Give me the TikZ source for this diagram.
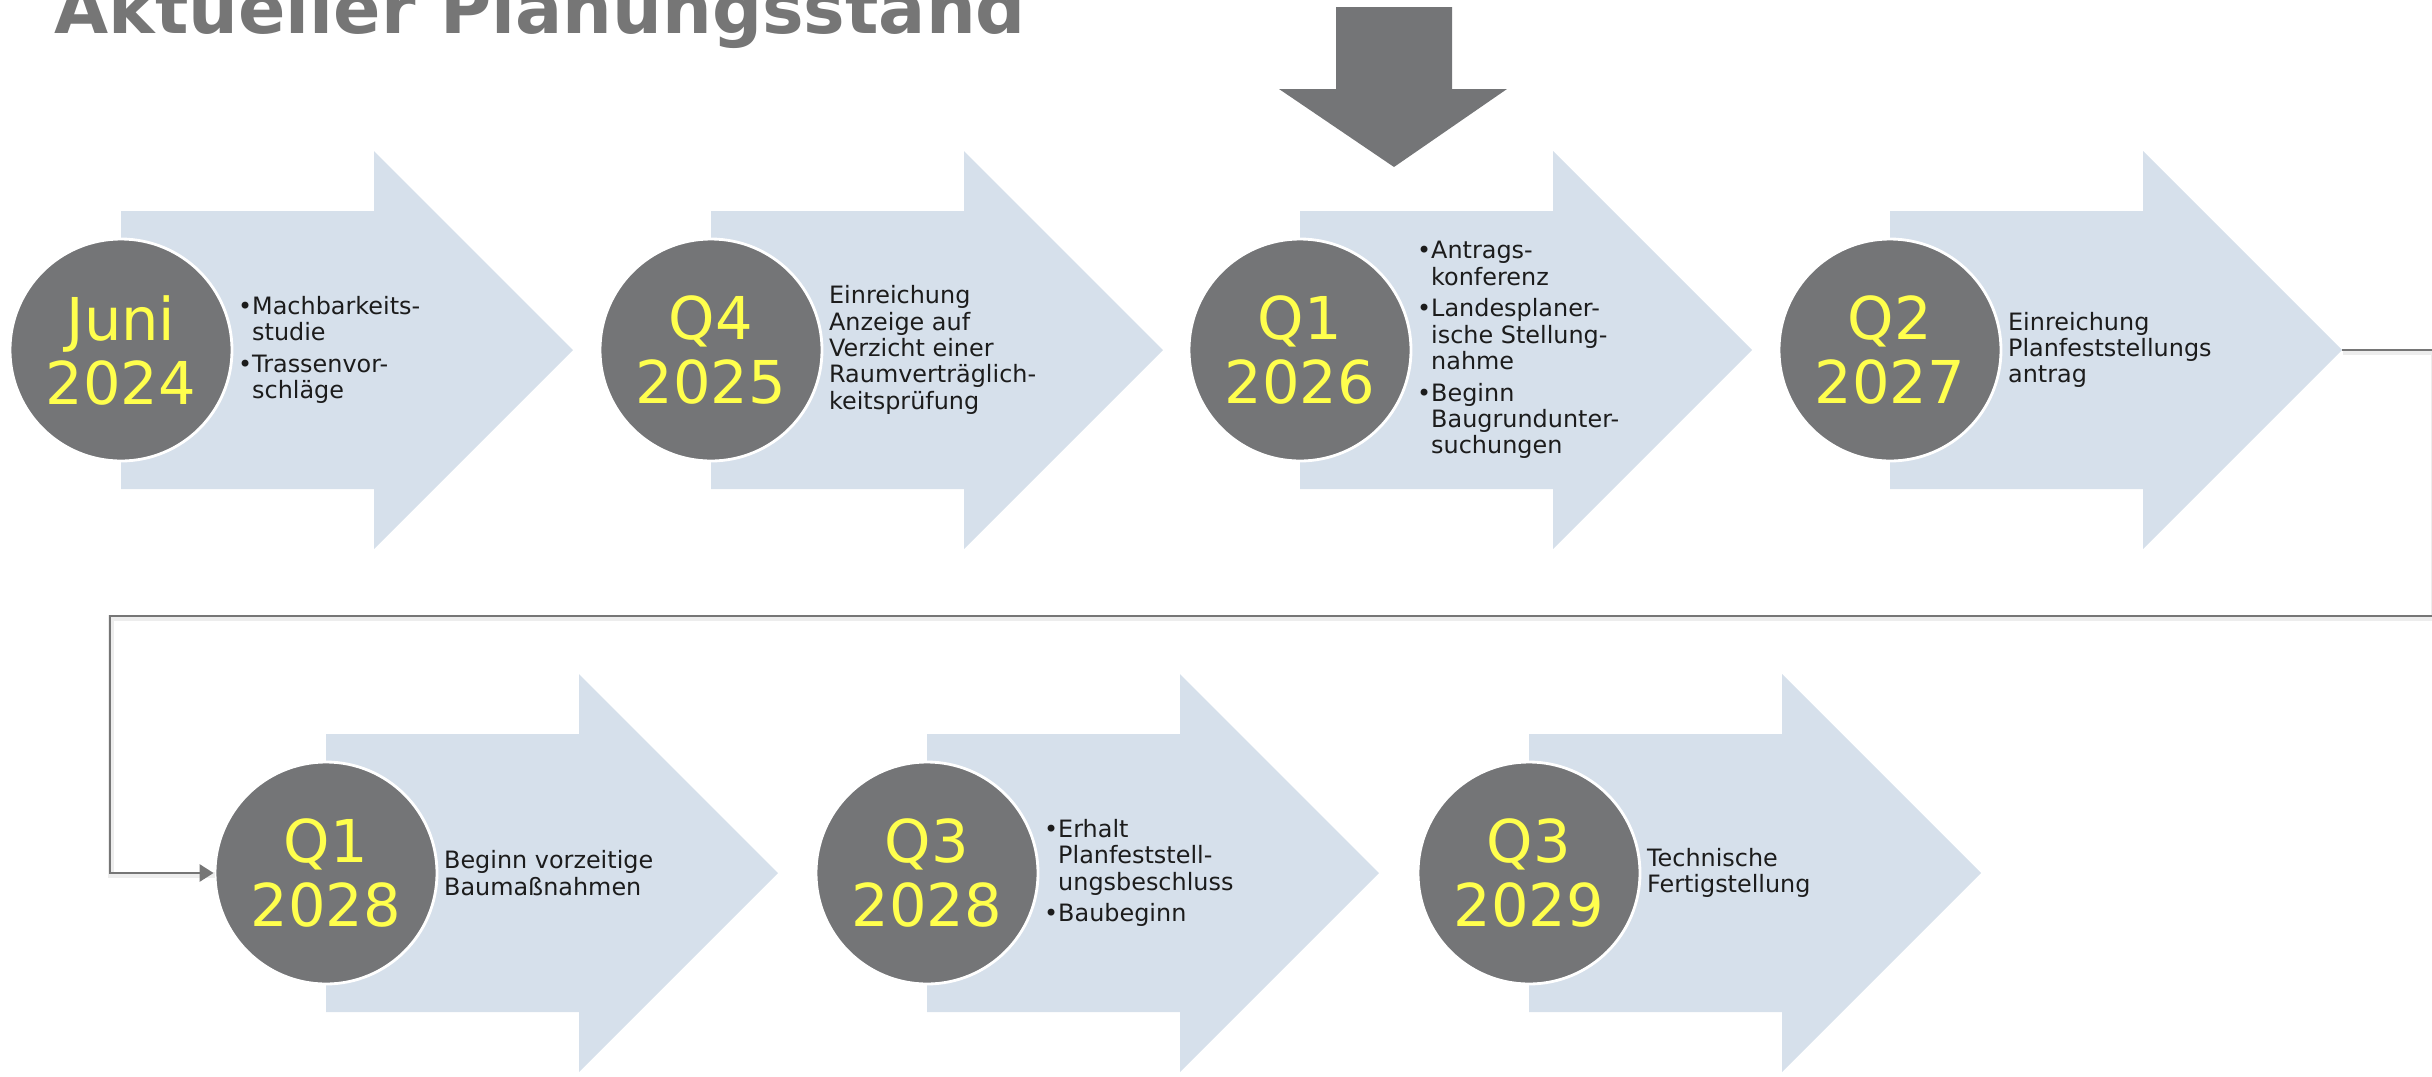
\documentclass[tikz,border=0pt]{standalone}
\usepackage{fontspec}
\setmainfont{DejaVu Sans}
\usetikzlibrary{positioning}
\usetikzlibrary{arrows.meta}
\usetikzlibrary{backgrounds}
\usepackage{xcolor}
\definecolor{mygray}{RGB}{116,117,119}
\definecolor{mylinegray}{RGB}{118,118,118}
\definecolor{myblue}{RGB}{214,224,235}
\definecolor{myyellow}{RGB}{255,255,77}
\definecolor{mytext}{RGB}{28,28,28}
\newcommand{\bul}{\textbullet}
\newcommand{\bulind}{\hphantom{\textbullet}}
\tikzset{
  >=latex, % default arrow head
  date/.style={circle,fill=mygray,draw=white,line width=0.8pt,minimum size=2.22cm,inner sep=0,
    text=myyellow,align=center,font=\fontsize{16.8}{18.2}\selectfont},
  desc/.style={inner sep=0,align=left,text=mytext,font=\fontsize{6.8}{7.5}\selectfont},
  phase arrow/.pic={
    \fill[myblue] (0,1.39) -- (2.53,1.39) -- (2.53,1.99) -- (4.52,0) -- (2.53,-1.99)
      -- (2.53,-1.39) -- (0,-1.39) -- cycle;
    \coordinate (-tip) at (4.52,0);
  },
  connect arrow/.style={-{Triangle[length=0.14cm,width=0.17cm]},line width=0.8pt,mylinegray,
    preaction={draw=black!7,line width=1.8pt,-,transform canvas={shift={(0.012,-0.018)}}}}
}

\begin{document}
\begin{tikzpicture}
    \useasboundingbox (0,0) rectangle (24.32,-10.76);
    \node[anchor=base west,inner sep=0,text=mylinegray,font=\fontsize{19.9}{24}\selectfont\bfseries]
      (title) at (0.54,-0.335) {Aktueller Planungsstand};
    % marker above the current step
    \fill[mygray] (13.36,-0.07) -- (14.52,-0.07) -- (14.52,-0.89) -- (15.07,-0.89) -- (13.94,-1.67)
      -- (12.79,-0.89) -- (13.36,-0.89) -- cycle;

    % first row
    \node[date] (d1) at (1.21,-3.50) {Juni\\2024};
    \node[date] (d2) at (7.11,-3.50) {Q4\\2025};
    \node[date] (d3) at (13.00,-3.50) {Q1\\2026};
    \node[date] (d4) at (18.90,-3.50) {Q2\\2027};
    % second row
    \node[date] (d5) at (3.26,-8.73) {Q1\\2028};
    \node[date] (d6) at (9.27,-8.73) {Q3\\2028};
    \node[date] (d7) at (15.29,-8.73) {Q3\\2029};

    \begin{scope}[on background layer]
      \pic (a1) at (d1) {phase arrow};
      \pic (a2) at (d2) {phase arrow};
      \pic (a3) at (d3) {phase arrow};
      \pic (a4) at (d4) {phase arrow};
      \pic (a5) at (d5) {phase arrow};
      \pic (a6) at (d6) {phase arrow};
      \pic (a7) at (d7) {phase arrow};
    \end{scope}

    \node[desc,right=0.04 of d1] (t1) {\bul Machbarkeits-\\\bulind studie\\[1.5pt]\bul Trassenvor-\\\bulind schläge};
    \node[desc,right=0.05 of d2] (t2) {Einreichung\\Anzeige auf\\Verzicht einer\\Raumverträglich-\\keitsprüfung};
    \node[desc,right=0.04 of d3] (t3) {\bul Antrags-\\\bulind konferenz\\[1.5pt]\bul Landesplaner-\\\bulind ische Stellung-\\\bulind nahme\\[1.5pt]\bul Beginn\\\bulind Baugrundunter-\\\bulind suchungen};
    \node[desc,right=0.05 of d4] (t4) {Einreichung\\Planfeststellungs\\antrag};
    \node[desc,right=0.05 of d5] (t5) {Beginn vorzeitige\\Baumaßnahmen};
    \node[desc,right=0.04 of d6] (t6) {\bul Erhalt\\\bulind Planfeststell-\\\bulind ungsbeschluss\\[1.5pt]\bul Baubeginn};
    \node[desc,right=0.05 of d7] (t7) {Technische\\Fertigstellung};

    \draw[connect arrow] (a4-tip) -- ++(0.91,0) |- (1.10,-6.16) |- (d5.west);
\end{tikzpicture}
\end{document}
